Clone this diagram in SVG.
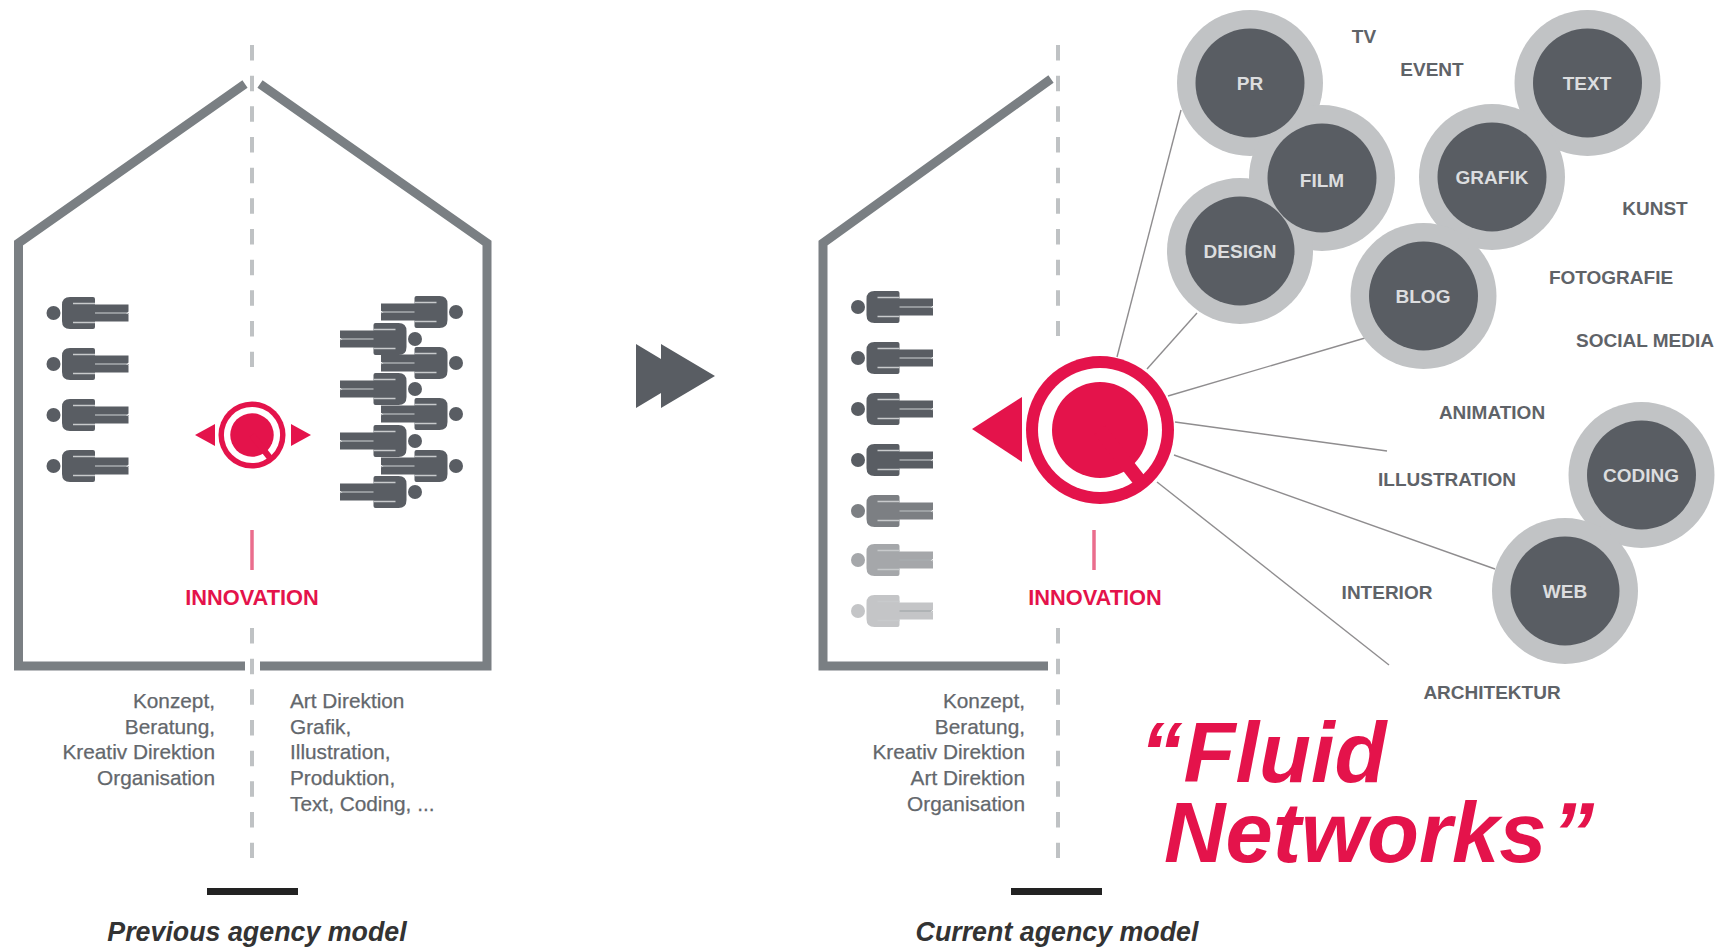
<svg xmlns="http://www.w3.org/2000/svg" xmlns:xlink="http://www.w3.org/1999/xlink" width="1720" height="947" viewBox="0 0 1720 947">
<style>
text{font-family:"Liberation Sans",Arial,sans-serif}
.wall{fill:none;stroke:#7a7f83;stroke-width:9}
.axis{stroke:#bfc2c4;stroke-width:4;stroke-dasharray:15.5 15.17;fill:none}
.tick{stroke:#ea6d8d;stroke-width:3.5}
.red{fill:#e4134b}
.inno{fill:#e4134b;font-weight:bold;font-size:21.800px;text-anchor:middle}
.body{fill:#63676c;font-size:20.800px;stroke:#63676c;stroke-width:.25}
.end{text-anchor:end}
.cap{fill:#333;font-weight:bold;font-style:italic;font-size:26.800px;text-anchor:middle}
.bar{fill:#222}
.lbl{fill:#5f6368;font-weight:bold;font-size:19px;text-anchor:middle}
.in{fill:#dcdddf;font-weight:bold;font-size:19px;text-anchor:middle}
.out{fill:#c1c3c5}
.dark{fill:#595d63}
.link{stroke:#8f8d8f;stroke-width:1.400;fill:none}
.fluid{fill:#e4134b;font-weight:bold;font-style:italic;font-size:85px}
</style>
<defs>
<g id="p">
<circle cx="0" cy="0" r="7"/>
<path d="M16.500 -16H39.500Q41.500 -16 41.500 -14V-8.500H75V8.500H41.500V14Q41.500 16 39.500 16H16.500Q8.500 16 8.500 8V-8Q8.500 -16 16.500 -16Z"/>
<path d="M19.500 -9.500H41.500M19.500 9.500H41.500" stroke="#c8cacc" stroke-width="1.500" fill="none"/>
<path d="M41.500 0H75" stroke="#a9acaf" stroke-width="1.500" fill="none"/>
<path d="M72.500 0H76V-2L73.500 0L76 2Z" fill="#fff"/>
</g>
<g id="q">
<circle r="74" fill="#e4134b"/>
<circle r="62" fill="#fff"/>
<circle r="48" fill="#e4134b"/>
<path d="M0 0L43 55" stroke="#e4134b" stroke-width="14"/>
</g>
</defs>

<g id="connectors">
<path class="link" d="M1117 357L1181 110"/>
<path class="link" d="M1147 369L1197 313"/>
<path class="link" d="M1168 396L1365 338"/>
<path class="link" d="M1175 422L1387 451"/>
<path class="link" d="M1174 455L1495 569"/>
<path class="link" d="M1157 482L1389 665"/>
</g>

<g id="house-previous">
<path class="wall" d="M245 84L18.500 243V666H245"/>
<path class="wall" d="M260 84L487 243V666H260"/>
<path class="axis" d="M252 45V367"/>
<path class="axis" d="M252 628V858"/>
</g>
<g id="people-previous-left" fill="#595d63">
<use xlink:href="#p" href="#p" x="53.500" y="313"/>
<use xlink:href="#p" href="#p" x="53.500" y="364"/>
<use xlink:href="#p" href="#p" x="53.500" y="415"/>
<use xlink:href="#p" href="#p" x="53.500" y="466"/>
</g>
<g id="people-previous-right" fill="#595d63">
<use xlink:href="#p" href="#p" transform="translate(456 312) scale(-1 1)"/>
<use xlink:href="#p" href="#p" transform="translate(456 363) scale(-1 1)"/>
<use xlink:href="#p" href="#p" transform="translate(456 414) scale(-1 1)"/>
<use xlink:href="#p" href="#p" transform="translate(456 466) scale(-1 1)"/>
<use xlink:href="#p" href="#p" transform="translate(415 339) scale(-1 1)"/>
<use xlink:href="#p" href="#p" transform="translate(415 389) scale(-1 1)"/>
<use xlink:href="#p" href="#p" transform="translate(415 441) scale(-1 1)"/>
<use xlink:href="#p" href="#p" transform="translate(415 492) scale(-1 1)"/>
</g>
<g id="hub-previous">
<use xlink:href="#q" href="#q" transform="translate(252 435) scale(.453)"/>
<path class="red" d="M195 435L215 424V446Z"/>
<path class="red" d="M311 435L291 424V446Z"/>
<path class="tick" d="M252 530V570"/>
<text class="inno" x="252" y="605">INNOVATION</text>
</g>
<g id="text-previous">
<text class="body end" x="215" y="708">Konzept,</text>
<text class="body end" x="215" y="733.600">Beratung,</text>
<text class="body end" x="215" y="759.300">Kreativ Direktion</text>
<text class="body end" x="215" y="785">Organisation</text>
<text class="body" x="290" y="708">Art Direktion</text>
<text class="body" x="290" y="733.600">Grafik,</text>
<text class="body" x="290" y="759.300">Illustration,</text>
<text class="body" x="290" y="785">Produktion,</text>
<text class="body" x="290" y="810.600">Text, Coding, ...</text>
<rect class="bar" x="207" y="888" width="91" height="7"/>
<text class="cap" x="257" y="941">Previous agency model</text>
</g>

<g id="arrow"><path fill="#595d63" d="M636 344L661 359V344L715 376L661 408V393L636 408Z"/></g>

<g id="house-current">
<path class="wall" d="M1051 79L823 243V666H1048"/>
<path class="axis" d="M1058 45V336"/>
<path class="axis" d="M1058 628V858"/>
</g>
<g id="people-current" fill="#595d63">
<use xlink:href="#p" href="#p" x="858" y="307"/>
<use xlink:href="#p" href="#p" x="858" y="358"/>
<use xlink:href="#p" href="#p" x="858" y="409"/>
<use xlink:href="#p" href="#p" x="858" y="460"/>
<use xlink:href="#p" href="#p" x="858" y="511" fill="#7c7f83"/>
<use xlink:href="#p" href="#p" x="858" y="560" fill="#a5a7aa"/>
<use xlink:href="#p" href="#p" x="858" y="611" fill="#c4c5c7"/>
</g>
<g id="hub-current">
<use xlink:href="#q" href="#q" transform="translate(1100 430)"/>
<path class="red" d="M972 429L1022 397V462Z"/>
<path class="tick" d="M1094 530V570"/>
<text class="inno" x="1095" y="605">INNOVATION</text>
</g>
<g id="text-current">
<text class="body end" x="1025" y="708">Konzept,</text>
<text class="body end" x="1025" y="733.600">Beratung,</text>
<text class="body end" x="1025" y="759.300">Kreativ Direktion</text>
<text class="body end" x="1025" y="785">Art Direktion</text>
<text class="body end" x="1025" y="810.600">Organisation</text>
<rect class="bar" x="1011" y="888" width="91" height="7"/>
<text class="cap" x="1057" y="941">Current agency model</text>
</g>

<g id="node-halos">
<circle class="out" cx="1250" cy="83" r="73"/>
<circle class="out" cx="1322" cy="178" r="73"/>
<circle class="out" cx="1240" cy="251" r="73"/>
<circle class="out" cx="1587.500" cy="83" r="73"/>
<circle class="out" cx="1492" cy="177" r="73"/>
<circle class="out" cx="1423.500" cy="296" r="73"/>
<circle class="out" cx="1641.500" cy="475" r="73"/>
<circle class="out" cx="1565" cy="591" r="73"/>
</g>
<g id="node-pr"><circle class="dark" cx="1250" cy="83" r="54.500"/><text class="in" x="1250" y="90">PR</text></g>
<g id="node-film"><circle class="dark" cx="1322" cy="178" r="54.500"/><text class="in" x="1322" y="187">FILM</text></g>
<g id="node-design"><circle class="dark" cx="1240" cy="251" r="54.500"/><text class="in" x="1240" y="258">DESIGN</text></g>
<g id="node-text"><circle class="dark" cx="1587.500" cy="83" r="54.500"/><text class="in" x="1587" y="90">TEXT</text></g>
<g id="node-grafik"><circle class="dark" cx="1492" cy="177" r="54.500"/><text class="in" x="1492" y="184">GRAFIK</text></g>
<g id="node-blog"><circle class="dark" cx="1423.500" cy="296" r="54.500"/><text class="in" x="1423" y="303">BLOG</text></g>
<g id="node-coding"><circle class="dark" cx="1641.500" cy="475" r="54.500"/><text class="in" x="1641" y="482">CODING</text></g>
<g id="node-web"><circle class="dark" cx="1565" cy="591" r="54.500"/><text class="in" x="1565" y="598">WEB</text></g>

<g id="labels">
<text class="lbl" x="1364" y="43">TV</text>
<text class="lbl" x="1432" y="76">EVENT</text>
<text class="lbl" x="1655" y="215">KUNST</text>
<text class="lbl" x="1611" y="284">FOTOGRAFIE</text>
<text class="lbl" x="1645" y="347">SOCIAL MEDIA</text>
<text class="lbl" x="1492" y="419">ANIMATION</text>
<text class="lbl" x="1447" y="486">ILLUSTRATION</text>
<text class="lbl" x="1387" y="599">INTERIOR</text>
<text class="lbl" x="1492" y="699">ARCHITEKTUR</text>
</g>
<g id="title">
<text class="fluid" x="1140" y="782">“<tspan dx="1">Fluid</tspan></text>
<text class="fluid" x="1164" y="862">Networks<tspan dx="5">”</tspan></text>
</g>
</svg>
